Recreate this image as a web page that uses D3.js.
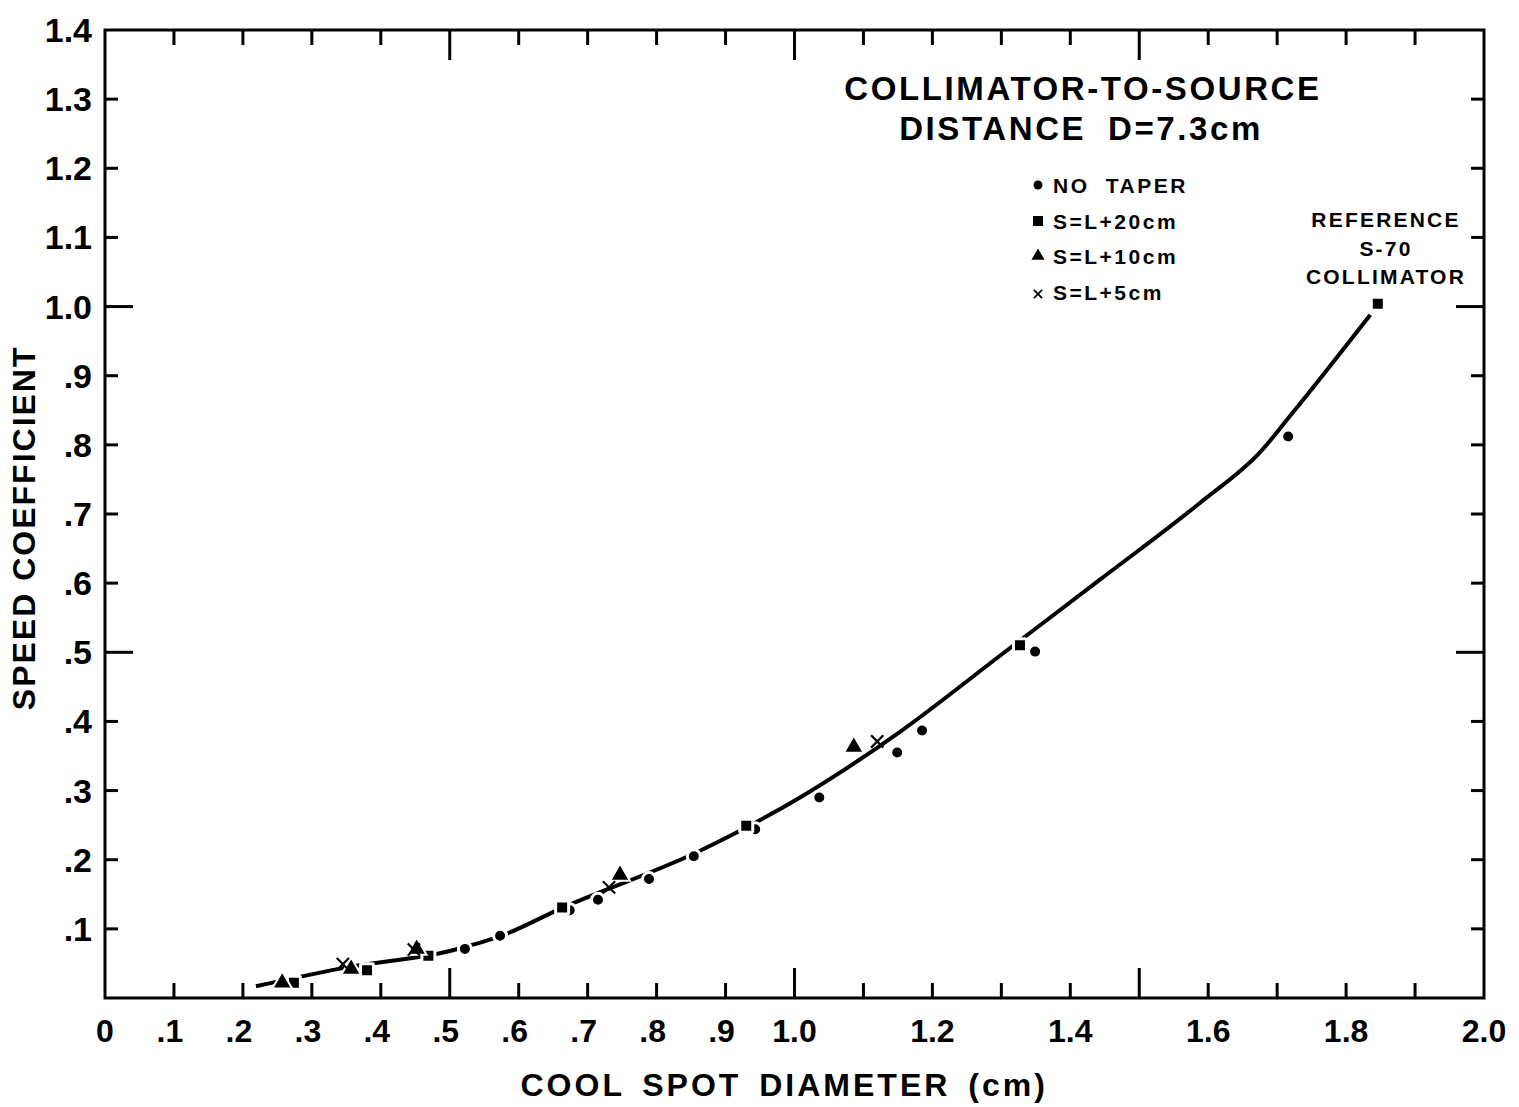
<!DOCTYPE html>
<html lang="en">
<head>
  <meta charset="UTF-8">
  <title>Speed Coefficient vs Cool Spot Diameter</title>
  <script src="https://d3js.org/d3.v7.min.js"></script>
  <style>
    body { margin: 0; background: #fff; }
    text { font-family: "Liberation Sans", Arial, sans-serif; font-weight: bold; fill: #000; }
  </style>
</head>
<body>
  <svg width="1519" height="1107"></svg>

  <script>
    // Measured points, one array per series
    const noTaper = [
      [0.522, 0.071], [0.573, 0.090], [0.674, 0.127], [0.715, 0.142], [0.789, 0.172],
      [0.854, 0.205], [0.943, 0.244], [1.036, 0.290], [1.149, 0.355], [1.185, 0.387],
      [1.349, 0.501], [1.716, 0.812]
    ];
    const taper20 = [
      [0.274, 0.022], [0.380, 0.040], [0.469, 0.061], [0.663, 0.131], [0.930, 0.249],
      [1.327, 0.510], [1.846, 1.004]
    ];
    const taper10 = [
      [0.257, 0.022], [0.357, 0.042], [0.452, 0.071], [0.747, 0.178], [1.086, 0.363]
    ];
    const taper5 = [
      [0.345, 0.049], [0.448, 0.070], [0.731, 0.160], [1.120, 0.371]
    ];
    // hand-drawn fit curve
    const fitCurve = [
      [0.219, 0.017], [0.355, 0.045], [0.500, 0.068], [0.580, 0.092], [0.660, 0.129],
      [0.863, 0.213], [1.008, 0.290], [1.153, 0.385], [1.298, 0.495], [1.443, 0.605],
      [1.588, 0.716], [1.675, 0.789], [1.723, 0.847], [1.835, 0.988]
    ];
    const xTickLabels = ["0", ".1", ".2", ".3", ".4", ".5", ".6", ".7", ".8", ".9", "1.0", "1.2", "1.4", "1.6", "1.8", "2.0"];
    const xTickValues = [0, .1, .2, .3, .4, .5, .6, .7, .8, .9, 1.0, 1.2, 1.4, 1.6, 1.8, 2.0];
    const yTickLabels = [".1", ".2", ".3", ".4", ".5", ".6", ".7", ".8", ".9", "1.0", "1.1", "1.2", "1.3", "1.4"];
    const yTickValues = [.1, .2, .3, .4, .5, .6, .7, .8, .9, 1.0, 1.1, 1.2, 1.3, 1.4];

    const margin = { top: 30, right: 35, bottom: 109, left: 105 };
    const width = 1519 - margin.left - margin.right;
    const height = 1107 - margin.top - margin.bottom;

    const svg = d3.select("svg")
      .append("g")
      .attr("transform", "translate(" + margin.left + "," + margin.top + ")");

    const x = d3.scaleLinear().domain([0, 2.0]).range([0, width]);
    const y = d3.scaleLinear().domain([0, 1.4]).range([height, 0]);

    // tick marks every 0.1, long ones at .5 multiples
    const minorX = d3.range(1, 20).map(i => i / 10);
    const minorY = d3.range(1, 14).map(i => i / 10);
    const tickLen = v => (Math.round(v * 10) % 5 === 0) ? 30 : 15;

    const ticks = svg.append("g").attr("stroke", "#000").attr("stroke-width", 3);
    minorX.forEach(v => {
      ticks.append("line").attr("x1", x(v)).attr("x2", x(v)).attr("y1", height).attr("y2", height - tickLen(v));
      ticks.append("line").attr("x1", x(v)).attr("x2", x(v)).attr("y1", 0).attr("y2", tickLen(v));
    });
    minorY.forEach(v => {
      ticks.append("line").attr("y1", y(v)).attr("y2", y(v)).attr("x1", 0).attr("x2", tickLen(v) - 2);
      ticks.append("line").attr("y1", y(v)).attr("y2", y(v)).attr("x1", width).attr("x2", width - tickLen(v) + 2);
    });

    // frame
    svg.append("rect")
      .attr("width", width).attr("height", height)
      .attr("fill", "none").attr("stroke", "#000").attr("stroke-width", 3);

    // x tick labels
    svg.selectAll(".xlab")
      .data(xTickValues)
      .enter().append("text")
      .attr("x", (d, i) => x(d) + (xTickLabels[i].startsWith(".") ? -4 : 0))
      .attr("y", height + 44)
      .attr("text-anchor", "middle")
      .style("font-size", "32px")
      .text((d, i) => xTickLabels[i]);

    // y tick labels
    svg.selectAll(".ylab")
      .data(yTickValues)
      .enter().append("text")
      .attr("x", -13)
      .attr("y", d => y(d) + 12)
      .attr("text-anchor", "end")
      .style("font-size", "34px")
      .text((d, i) => yTickLabels[i]);

    // axis titles
    svg.append("text")
      .attr("x", x(0.985))
      .attr("y", height + 98)
      .attr("text-anchor", "middle")
      .style("font-size", "32px")
      .style("letter-spacing", "3px")
      .style("word-spacing", "6px")
      .text("COOL SPOT DIAMETER (cm)");

    svg.append("text")
      .attr("transform", "translate(" + (-70) + "," + (y(0.68)) + ") rotate(-90)")
      .attr("text-anchor", "middle")
      .style("font-size", "32px")
      .style("letter-spacing", "2px")
      .text("SPEED COEFFICIENT");

    // fit curve
    svg.append("path")
      .datum(fitCurve)
      .attr("fill", "none")
      .attr("stroke", "#000")
      .attr("stroke-width", 4)
      .attr("d", d3.line().x(d => x(d[0])).y(d => y(d[1])).curve(d3.curveMonotoneX));

    // markers (white outline breaks the curve around them)
    svg.selectAll(".circ")
      .data(noTaper)
      .enter().append("circle")
      .attr("cx", d => x(d[0])).attr("cy", d => y(d[1])).attr("r", 6.5)
      .attr("fill", "#000").attr("stroke", "#fff").attr("stroke-width", 3);

    svg.selectAll(".sq")
      .data(taper20)
      .enter().append("rect")
      .attr("x", d => x(d[0]) - 6.5).attr("y", d => y(d[1]) - 6.5)
      .attr("width", 13).attr("height", 13).attr("rx", 1.5)
      .attr("fill", "#000").attr("stroke", "#fff").attr("stroke-width", 3);

    const tri = d3.symbol().type(d3.symbolTriangle).size(170);
    svg.selectAll(".tri")
      .data(taper10)
      .enter().append("path")
      .attr("transform", d => "translate(" + x(d[0]) + "," + y(d[1]) + ")")
      .attr("d", tri)
      .attr("fill", "#000").attr("stroke", "#fff").attr("stroke-width", 2);

    const cross = d3.symbol().type(d3.symbolTimes).size(100);
    svg.selectAll(".x")
      .data(taper5)
      .enter().append("path")
      .attr("transform", d => "translate(" + x(d[0]) + "," + y(d[1]) + ")")
      .attr("d", cross)
      .attr("fill", "none").attr("stroke", "#000").attr("stroke-width", 2.2);

    // title
    svg.append("text")
      .attr("x", 978).attr("y", 70)
      .attr("text-anchor", "middle")
      .style("font-size", "33px")
      .style("letter-spacing", "2.6px")
      .text("COLLIMATOR-TO-SOURCE");
    svg.append("text")
      .attr("x", 976).attr("y", 110)
      .attr("text-anchor", "middle")
      .style("font-size", "33px")
      .style("letter-spacing", "2.6px")
      .style("word-spacing", "10px")
      .text("DISTANCE D=7.3cm");

    // legend
    const legendItems = ["NO TAPER", "S=L+20cm", "S=L+10cm", "S=L+5cm"];
    const lg = svg.append("g").attr("transform", "translate(933,155)");
    legendItems.forEach((t, i) => {
      const yy = i * 35.5;
      lg.append("text").attr("x", 15).attr("y", yy + 8)
        .style("font-size", "21px").style("letter-spacing", "2.5px").style("word-spacing", "8px").text(t);
    });
    lg.append("circle").attr("cx", 0).attr("cy", 0).attr("r", 4.5);
    lg.append("rect").attr("x", -5).attr("y", 31).attr("width", 10).attr("height", 10);
    lg.append("path").attr("transform", "translate(0,71)").attr("d", d3.symbol().type(d3.symbolTriangle).size(75));
    lg.append("path").attr("transform", "translate(0,109)").attr("d", d3.symbol().type(d3.symbolTimes).size(45))
      .attr("fill", "none").attr("stroke", "#000").attr("stroke-width", 1.8);

    // reference collimator label
    ["REFERENCE", "S-70", "COLLIMATOR"].forEach((t, i) => {
      svg.append("text")
        .attr("x", 1281).attr("y", 197 + i * 28.5)
        .attr("text-anchor", "middle")
        .style("font-size", "21px").style("letter-spacing", "2.2px")
        .text(t);
    });
  </script>
</body>
</html>
